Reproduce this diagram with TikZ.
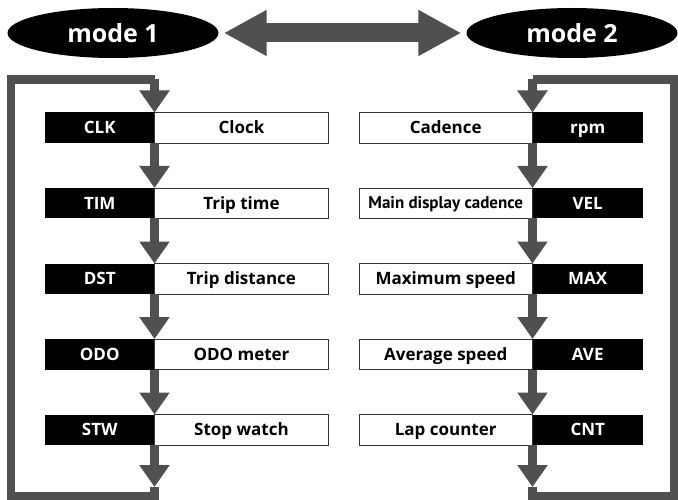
\documentclass[tikz,border=0pt]{standalone}
\usepackage{fontspec}
\setmainfont{Open Sans}
\newfontfamily\narrowfont{PT Sans}
\usetikzlibrary{arrows.meta,shapes.geometric}
\definecolor{flowgray}{RGB}{80,80,80}
\begin{document}
\begin{tikzpicture}[x=1pt,y=-1pt,
  boxfont/.style={font=\bfseries\fontsize{17}{19}\selectfont},
  keybox/.style={boxfont, fill=black, text=white, minimum width=109.5pt, minimum height=30.5pt,
    inner sep=0pt, outer sep=0pt, text height=12pt, text depth=0pt},
  descbox/.style={boxfont, fill=white, draw=black!80, line width=0.9pt, text=black,
    minimum height=30.5pt, inner sep=0pt, outer sep=0pt, text height=12pt, text depth=0pt},
  modebox/.style={ellipse, fill=black, text=white, minimum width=211pt, minimum height=50pt,
    inner sep=0pt, font=\bfseries\fontsize{25}{28}\selectfont},
  flowtip/.style={-{Triangle[width=29pt,length=22pt]}},
  flow/.style={draw=flowgray, line width=8.5pt, flowtip},
  loopline/.style={draw=flowgray, line width=8.5pt, line join=miter},
  dbl/.style={draw=flowgray, line width=19pt,
    {Triangle[width=43pt,length=43pt]}-{Triangle[width=43pt,length=43pt]}}
]
\useasboundingbox (0,0) rectangle (678,500);

% mode ellipses
\node[modebox] (m1) at (113,33) {mode 1};
\node[modebox] (m2) at (572,33) {mode 2};
\draw[dbl, shorten <=5pt, shorten >=5pt] (m1) -- (m2);

% left column
\node[keybox] (k1) at (99.75,127.75) {CLK};
\node[keybox] (k2) at (99.75,203.25) {TIM};
\node[keybox] (k3) at (99.75,278.75) {DST};
\node[keybox] (k4) at (99.75,354.25) {ODO};
\node[keybox] (k5) at (99.75,429.75) {STW};
\node[descbox, minimum width=174pt] (w1) at (241.5,127.75) {Clock};
\node[descbox, minimum width=174pt] (w2) at (241.5,203.25) {Trip time};
\node[descbox, minimum width=174pt] (w3) at (241.5,278.75) {Trip distance};
\node[descbox, minimum width=174pt] (w4) at (241.5,354.25) {ODO meter};
\node[descbox, minimum width=174pt] (w5) at (241.5,429.75) {Stop watch};

% right column
\node[descbox, minimum width=173.5pt] (r1) at (445.75,127.75) {Cadence};
\node[descbox, minimum width=173.5pt, font=\narrowfont\bfseries\fontsize{17}{19}\selectfont, text height=11.5pt] (r2) at (445.75,203.25) {Main display cadence};
\node[descbox, minimum width=173.5pt] (r3) at (445.75,278.75) {Maximum speed};
\node[descbox, minimum width=173.5pt] (r4) at (445.75,354.25) {Average speed};
\node[descbox, minimum width=173.5pt] (r5) at (445.75,429.75) {Lap counter};
\node[keybox, minimum width=110.5pt] (b1) at (587.75,127.75) {rpm};
\node[keybox, minimum width=110.5pt] (b2) at (587.75,203.25) {VEL};
\node[keybox, minimum width=110.5pt] (b3) at (587.75,278.75) {MAX};
\node[keybox, minimum width=110.5pt] (b4) at (587.75,354.25) {AVE};
\node[keybox, minimum width=110.5pt] (b5) at (587.75,429.75) {CNT};

% left flow
\draw[flow] (k1.south east) -- (k2.north east);
\draw[flow] (k2.south east) -- (k3.north east);
\draw[flow] (k3.south east) -- (k4.north east);
\draw[flow] (k4.south east) -- (k5.north east);
\coordinate (la) at (154.5,487);
\coordinate (lb1) at (154.5,496.5);
\coordinate (lb2) at (11,496.5);
\coordinate (lt1) at (11,79.5);
\coordinate (lt2) at (154.5,79.5);
\draw[flow] (k5.south east) -- (la);
\draw[loopline] (la) -- (lb1) -- (lb2) -- (lt1) -- (lt2);
\draw[flow] (lt2) -- (k1.north east);

% right flow
\draw[flow] (b1.south west) -- (b2.north west);
\draw[flow] (b2.south west) -- (b3.north west);
\draw[flow] (b3.south west) -- (b4.north west);
\draw[flow] (b4.south west) -- (b5.north west);
\coordinate (ra) at (532.5,487);
\coordinate (rb1) at (532.5,496.5);
\coordinate (rb2) at (674,496.5);
\coordinate (rt1) at (674,79.5);
\coordinate (rt2) at (532.5,79.5);
\draw[flow] (b5.south west) -- (ra);
\draw[loopline] (ra) -- (rb1) -- (rb2) -- (rt1) -- (rt2);
\draw[flow] (rt2) -- (b1.north west);
\end{tikzpicture}
\end{document}
